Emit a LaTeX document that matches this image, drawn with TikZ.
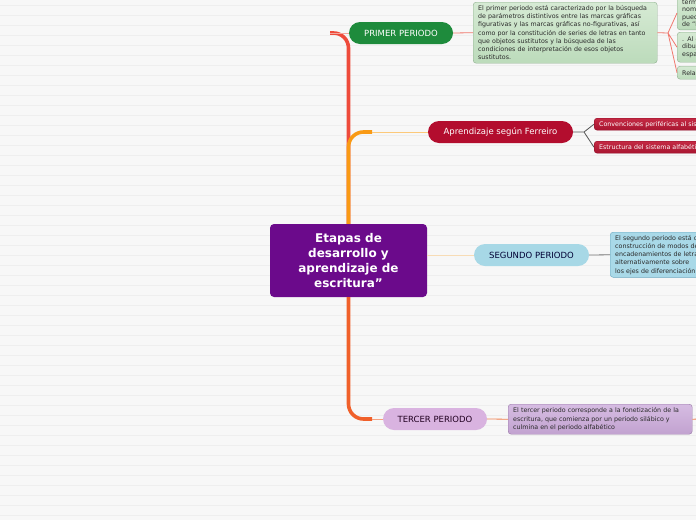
\documentclass[tikz,border=0pt]{standalone}
\usepackage{fontspec}
\setmainfont{DejaVu Sans}
\definecolor{paper}{HTML}{F7F7F7}
\definecolor{stripegray}{HTML}{EEEEEE}
\definecolor{rootpurple}{HTML}{6B0A8B}
\definecolor{primergreen}{HTML}{1E8B3C}
\definecolor{ferreirored}{HTML}{B30D2E}
\definecolor{segundoblue}{HTML}{A7D8E6}
\definecolor{tercerlilac}{HTML}{D9B3E0}
\definecolor{trunkred}{HTML}{EE4B3B}
\definecolor{trunkorange}{HTML}{F99A14}
\definecolor{trunkcoral}{HTML}{F0602A}
\definecolor{twigpink}{HTML}{F3A59C}
\definecolor{twigorange}{HTML}{FCC97A}
\definecolor{twigpeach}{HTML}{F7DCB6}
\definecolor{twigcoral}{HTML}{F6A07E}
\definecolor{leafred}{HTML}{F0786E}
\definecolor{leafgray}{HTML}{555555}
\definecolor{leafcoral}{HTML}{F08050}
\definecolor{notetext}{HTML}{2A2A2A}
\definecolor{greentop}{HTML}{D6EAD4}
\definecolor{greenbot}{HTML}{BCDBBB}
\definecolor{greenline}{HTML}{8FAF8F}
\definecolor{bluenote}{HTML}{A9D9E8}
\definecolor{blueline}{HTML}{6BA8C0}
\definecolor{lilactop}{HTML}{D6BCE2}
\definecolor{lilacbot}{HTML}{C2A2D0}
\definecolor{lilacline}{HTML}{9A7AA8}
\definecolor{crimtop}{HTML}{C42A44}
\definecolor{crimbot}{HTML}{A81530}

\begin{document}
\begin{tikzpicture}[x=1pt,y=-1pt,line join=round,
  stripe/.style={draw=stripegray,line width=0.6pt},
  trunk/.style={line width=3.6pt,rounded corners=15pt},
  twig/.style={line width=0.8pt},
  topic/.style={rounded corners=11pt,minimum height=22pt,inner sep=0pt,font=\fontsize{8.5}{10}\selectfont},
  note/.style={draw,rounded corners=3pt,anchor=north west,align=left,inner xsep=5pt,inner ysep=3pt,font=\fontsize{6.3}{8.2}\selectfont,text=notetext},
  greennote/.style={note,top color=greentop,bottom color=greenbot,draw=greenline},
  crimnote/.style={note,top color=crimtop,bottom color=crimbot,draw=ferreirored!80!black,text=white,inner ysep=2pt,minimum height=12pt}]
  \useasboundingbox (0,0) rectangle (696,520);
  \clip (0,0) rectangle (696,520);
  \fill[paper] (0,0) rectangle (696,520);
  \foreach \y in {5,15,...,515}
    \draw[stripe] (0,\y) -- (696,\y);

  \node[fill=rootpurple,rounded corners=4pt,minimum width=157pt,minimum height=73pt,inner sep=0pt,align=center,text=white,font=\bfseries\fontsize{12}{14.7}\selectfont] (root) at (348.5,260.5) {Etapas de\\desarrollo y\\aprendizaje de\\escritura”};
  \node[topic,fill=primergreen,text=white,minimum width=104pt] (primer) at (401,33) {PRIMER PERIODO};
  \node[topic,fill=ferreirored,text=white,minimum width=145pt] (aprend) at (500.5,132) {Aprendizaje según Ferreiro};
  \node[topic,fill=segundoblue,text=black!80!blue,minimum width=115pt] (segundo) at (531.5,255) {SEGUNDO PERIODO};
  \node[topic,fill=tercerlilac,text=black!75!violet,minimum width=104pt] (tercer) at (435,419) {TERCER PERIODO};

  \coordinate (p1end) at (330,33);
  \coordinate (p2end) at (372,132);
  \coordinate (p4end) at (372,419);
  \draw[trunk,trunkred] (root.north) |- (p1end);
  \draw[trunk,trunkorange] (root.north) |- (p2end);
  \draw[trunk,trunkcoral] (root.south) |- (p4end);
  \draw[twig,twigpink] (p1end) -- (primer.west);
  \draw[twig,twigorange] (p2end) -- (aprend.west);
  \draw[twig,twigpeach] (segundo.west -| root.east) -- (segundo.west);
  \draw[twig,twigcoral] (p4end) -- (tercer.west);

  \node[greennote,minimum width=184pt,minimum height=61pt,text width=174pt] (n1) at (473,2) {El primer periodo está caracterizado por la búsqueda\\de parámetros distintivos entre las marcas gráficas\\figurativas y las marcas gráficas no-figurativas, así\\como por la constitución de series de letras en tanto\\que objetos sustitutos y la búsqueda de las\\condiciones de interpretación de esos objetos\\sustitutos.};
  \node[greennote,minimum width=60pt,minimum height=32pt,text width=80pt,font=\fontsize{6.3}{7.5}\selectfont] (na) at (677,-4) {términos\\nombres\\pueden\\de “letras”};
  \node[greennote,minimum width=60pt,minimum height=30pt,text width=80pt,font=\fontsize{6.3}{7.5}\selectfont] (nb) at (677,32) {. Al comienzo\\dibujo y\\espacio};
  \node[greennote,minimum width=60pt,minimum height=13pt,inner ysep=2pt,text width=80pt] (nc) at (677,66) {Relación};
  \node[crimnote,text width=130pt] (conv) at (594,118) {Convenciones periféricas al sistema};
  \node[crimnote,text width=130pt] (estr) at (594,141) {Estructura del sistema alfabético};
  \node[note,fill=bluenote,draw=blueline,minimum height=45pt,text width=150pt] (n2) at (610,232) {El segundo periodo está caracterizado por la\\construcción de modos de diferenciación\\encadenamientos de letras, basándose\\alternativamente sobre\\los ejes de diferenciación cualitativos};
  \node[note,top color=lilactop,bottom color=lilacbot,draw=lilacline,minimum width=184pt,minimum height=30pt,text width=174pt] (n3) at (508,404) {El tercer periodo corresponde a la fonetización de la\\escritura, que comienza por un periodo silábico y\\culmina en el periodo alfabético};

  \coordinate (j1) at (668,33);
  \coordinate (j2) at (584,132);
  \coordinate (n3out) at (700,419);
  \draw[twig,leafred] (primer.east) -- (n1.west);
  \draw[twig,leafred] (n1.east) -- (j1) (j1) -- (na.west) (j1) -- (nb.west) (j1) -- (nc.west);
  \draw[twig,leafgray] (aprend.east) -- (j2) (j2) -- (conv.west) (j2) -- (estr.west);
  \draw[twig,leafgray!80] (segundo.east) -- (n2.west);
  \draw[twig,leafcoral] (tercer.east) -- (n3.west);
  \draw[twig,leafcoral] (n3.east) -- (n3out);
\end{tikzpicture}
\end{document}
